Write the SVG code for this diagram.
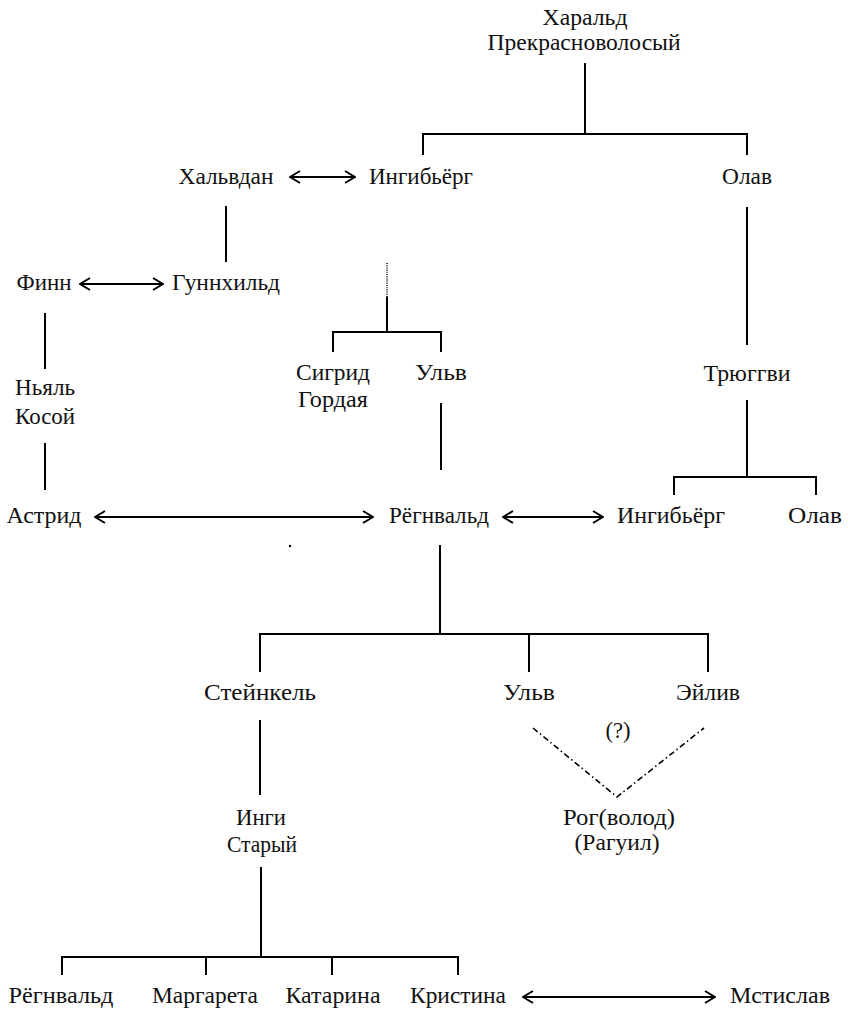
<svg xmlns="http://www.w3.org/2000/svg" width="848" height="1013" viewBox="0 0 848 1013">
<defs>
<marker id="ah" viewBox="0 0 12 14" refX="11" refY="7" markerWidth="12" markerHeight="14" markerUnits="userSpaceOnUse" orient="auto-start-reverse">
<path d="M1,1 L11,7 L1,13" fill="none" stroke="#000" stroke-width="2"/>
</marker>
<style>
.t text{font-size:23px;fill:#111;text-anchor:middle}
.l{stroke:#000;stroke-width:2;fill:none}
.a{stroke:#000;stroke-width:2;fill:none;marker-start:url(#ah);marker-end:url(#ah)}
.dot{stroke:#000;stroke-width:1.5;stroke-dasharray:1 1.2;fill:none}
.dd{stroke:#000;stroke-width:1.6;stroke-dasharray:6 3 1.5 3;fill:none}
</style>
</defs>
<rect width="848" height="1013" fill="#fff"/>
<g id="connectors">
<path class="l" d="M585,63V134M423,155V134H747V155"/>
<path class="l" d="M226,206V262"/>
<path class="l" d="M747,207V345"/>
<path class="l" d="M45,313V369"/>
<path class="dot" d="M387,263V297"/>
<path class="l" d="M387,297V332M333,352V332H441V352"/>
<path class="l" d="M441,403V470"/>
<path class="l" d="M45,443V490"/>
<path class="l" d="M747,400V477M674,495V477H816V495"/>
<path class="l" d="M440,545V634M260,672V634H708V672M529,634V672"/>
<path class="l" d="M260,720V795"/>
<path class="dd" d="M533,728L617,797L704,728"/>
<path class="l" d="M261,867V957M62,975V957H458V975M206,957V975M332,957V975"/>
<path class="a" d="M290,177H355"/>
<path class="a" d="M80,284H163"/>
<path class="a" d="M95,517H373"/>
<path class="a" d="M503,517H603"/>
<path class="a" d="M523,997H715"/>
<circle cx="290" cy="546" r="1.2" fill="#000"/>
</g>
<g class="t" font-family="'Liberation Serif', 'DejaVu Serif', serif">
<g id="n_harald"><text x="585" y="25" textLength="85" lengthAdjust="spacingAndGlyphs">Харальд</text><text x="584" y="50" textLength="193" lengthAdjust="spacingAndGlyphs">Прекрасноволосый</text></g>
<g id="n_halvdan"><text x="226" y="184" textLength="95" lengthAdjust="spacingAndGlyphs">Хальвдан</text></g>
<g id="n_ingibjorg1"><text x="421" y="184" textLength="104" lengthAdjust="spacingAndGlyphs">Ингибьёрг</text></g>
<g id="n_olav1"><text x="747" y="184" textLength="50" lengthAdjust="spacingAndGlyphs">Олав</text></g>
<g id="n_finn"><text x="44" y="290" textLength="55" lengthAdjust="spacingAndGlyphs">Финн</text></g>
<g id="n_gunnhild"><text x="226" y="290" textLength="108" lengthAdjust="spacingAndGlyphs">Гуннхильд</text></g>
<g id="n_sigrid"><text x="333" y="380" textLength="74" lengthAdjust="spacingAndGlyphs">Сигрид</text><text x="333" y="407" textLength="70" lengthAdjust="spacingAndGlyphs">Гордая</text></g>
<g id="n_ulv1"><text x="441" y="380" textLength="52" lengthAdjust="spacingAndGlyphs">Ульв</text></g>
<g id="n_njal"><text x="45" y="395" textLength="60" lengthAdjust="spacingAndGlyphs">Ньяль</text><text x="45" y="424" textLength="60" lengthAdjust="spacingAndGlyphs">Косой</text></g>
<g id="n_tryggvi"><text x="747" y="381" textLength="87" lengthAdjust="spacingAndGlyphs">Трюггви</text></g>
<g id="n_astrid"><text x="44" y="523" textLength="75" lengthAdjust="spacingAndGlyphs">Астрид</text></g>
<g id="n_regnvald1"><text x="439" y="523" textLength="100" lengthAdjust="spacingAndGlyphs">Рёгнвальд</text></g>
<g id="n_ingibjorg2"><text x="671" y="523" textLength="108" lengthAdjust="spacingAndGlyphs">Ингибьёрг</text></g>
<g id="n_olav2"><text x="815" y="523" textLength="54" lengthAdjust="spacingAndGlyphs">Олав</text></g>
<g id="n_steinkel"><text x="260" y="700" textLength="112" lengthAdjust="spacingAndGlyphs">Стейнкель</text></g>
<g id="n_ulv2"><text x="529" y="700" textLength="52" lengthAdjust="spacingAndGlyphs">Ульв</text></g>
<g id="n_eiliv"><text x="708" y="700" textLength="64" lengthAdjust="spacingAndGlyphs">Эйлив</text></g>
<g id="n_q"><text x="618" y="738" textLength="25" lengthAdjust="spacingAndGlyphs">(?)</text></g>
<g id="n_ingi"><text x="261" y="825" textLength="50" lengthAdjust="spacingAndGlyphs">Инги</text><text x="262" y="852" textLength="70" lengthAdjust="spacingAndGlyphs">Старый</text></g>
<g id="n_rogvolod"><text x="619" y="825" textLength="112" lengthAdjust="spacingAndGlyphs">Рог(волод)</text><text x="617" y="850" textLength="85" lengthAdjust="spacingAndGlyphs">(Рагуил)</text></g>
<g id="n_regnvald2"><text x="61" y="1003" textLength="105" lengthAdjust="spacingAndGlyphs">Рёгнвальд</text></g>
<g id="n_margareta"><text x="205" y="1003" textLength="106" lengthAdjust="spacingAndGlyphs">Маргарета</text></g>
<g id="n_katarina"><text x="333" y="1003" textLength="95" lengthAdjust="spacingAndGlyphs">Катарина</text></g>
<g id="n_kristina"><text x="458" y="1003" textLength="96" lengthAdjust="spacingAndGlyphs">Кристина</text></g>
<g id="n_mstislav"><text x="780" y="1003" textLength="100" lengthAdjust="spacingAndGlyphs">Мстислав</text></g>
</g>
</svg>
